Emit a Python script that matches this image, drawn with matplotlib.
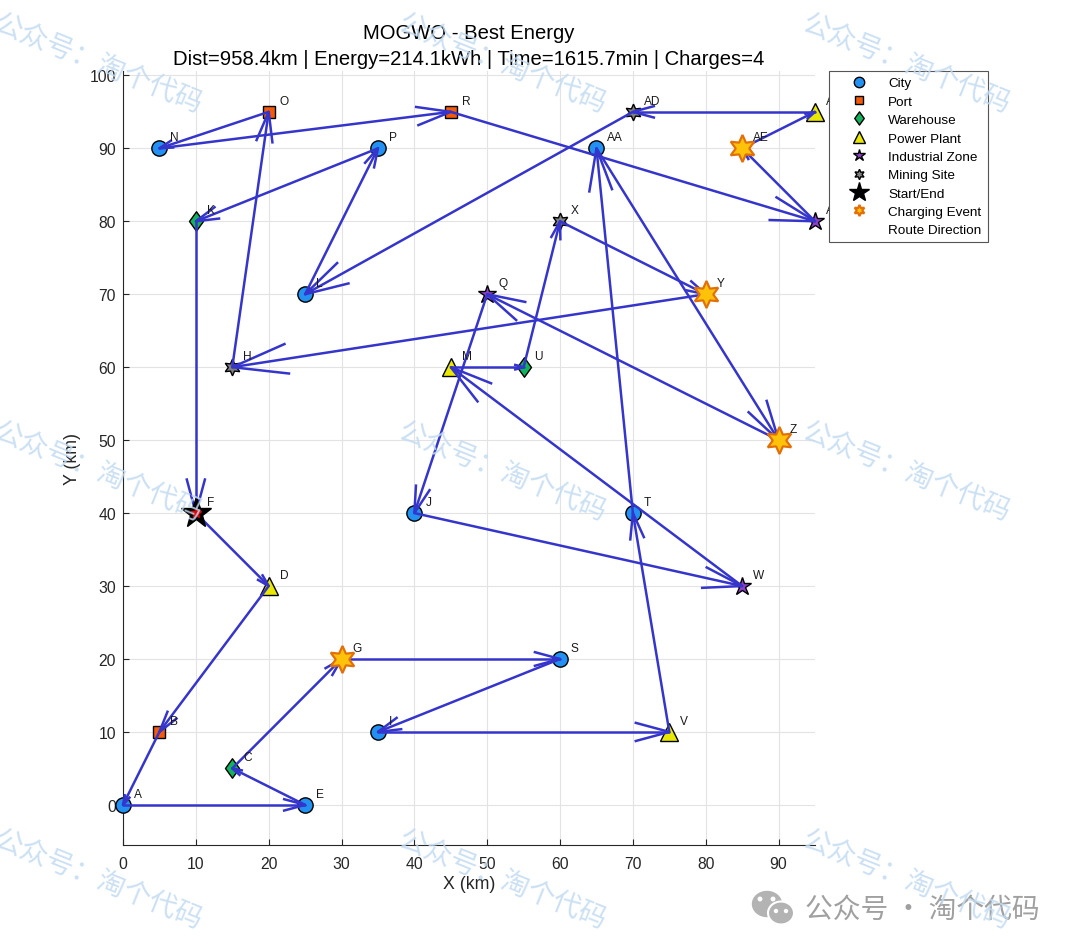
import numpy as np
import matplotlib
matplotlib.use('Agg')
import matplotlib.pyplot as plt
from matplotlib.lines import Line2D
from matplotlib.patches import Ellipse
from matplotlib.path import Path
from matplotlib.transforms import IdentityTransform

plt.rcParams['font.family'] = ['Liberation Sans', 'DejaVu Sans']

# nodes (km)
names = ['A', 'B', 'C', 'D', 'E', 'F', 'G', 'H', 'I', 'J', 'K', 'L', 'M', 'N', 'O', 'P',
         'Q', 'R', 'S', 'T', 'U', 'V', 'W', 'X', 'Y', 'Z', 'AA', 'AB', 'AC', 'AD', 'AE']
xs = [0, 5, 15, 20, 25, 10, 30, 15, 35, 40, 10, 25, 45, 5, 20, 35,
      50, 45, 60, 70, 55, 75, 85, 60, 80, 90, 65, 95, 95, 70, 85]
ys = [0, 10, 5, 30, 0, 40, 20, 60, 10, 40, 80, 70, 60, 90, 95, 90,
      70, 95, 20, 40, 60, 10, 30, 80, 70, 50, 90, 95, 80, 95, 90]
types = ['City', 'Port', 'Warehouse', 'Power Plant', 'City', 'Industrial Zone',
         'Charging Station', 'Mining Site', 'City', 'City', 'Warehouse', 'City',
         'Power Plant', 'City', 'Port', 'City', 'Industrial Zone', 'Port', 'City',
         'City', 'Warehouse', 'Power Plant', 'Industrial Zone', 'Mining Site',
         'Charging Station', 'Charging Station', 'City', 'Power Plant',
         'Industrial Zone', 'Mining Site', 'Charging Station']

route = ['F', 'D', 'B', 'A', 'E', 'C', 'G', 'S', 'I', 'V', 'T', 'AA', 'Z', 'Q', 'J', 'W',
         'M', 'U', 'X', 'Y', 'H', 'O', 'N', 'R', 'AC', 'AE', 'AB', 'AD', 'L', 'P', 'K', 'F']
charge_stops = ['G', 'Z', 'Y', 'AE']
start_node = 'F'

title_txt = 'MOGWO - Best Energy\nDist=958.4km | Energy=214.1kWh | Time=1615.7min | Charges=4'

pos = {n: (x, y) for n, x, y in zip(names, xs, ys)}

# 6-point star and tall diamond
hexagram = (6, 1, 0)
diamond = Path([(0, 1), (0.72, 0), (0, -1), (-0.72, 0), (0, 1)],
               [Path.MOVETO, Path.LINETO, Path.LINETO, Path.LINETO, Path.CLOSEPOLY])

styles = {
    'City': dict(marker='o', ms=11, mfc='#2391f2'),
    'Port': dict(marker='s', ms=9, mfc='#f45a08'),
    'Warehouse': dict(marker=diamond, ms=14, mfc='#12b35c'),
    'Power Plant': dict(marker='^', ms=12.5, mfc='#e8e800'),
    'Industrial Zone': dict(marker='*', ms=13.5, mfc='#8d3fc8'),
    'Mining Site': dict(marker=hexagram, ms=12, mfc='#7f7f7f'),
}
leg_sizes = {'City': 7.5, 'Port': 6, 'Warehouse': 9.5, 'Power Plant': 9,
             'Industrial Zone': 9, 'Mining Site': 7.5}

route_col = '#3535cc'

fig = plt.figure(figsize=(10.8, 9.53), dpi=100)
ax = fig.add_axes([123 / 1080, 1 - 846 / 953, 692 / 1080, 774 / 953])

# node markers
for t, st in styles.items():
    px = [x for x, tt in zip(xs, types) if tt == t]
    py = [y for y, tt in zip(ys, types) if tt == t]
    ax.plot(px, py, ls='none', mec='black', mew=1.0, zorder=3, clip_on=False, **st)

# route with arrow heads at each end point
for a, b in zip(route[:-1], route[1:]):
    x0, y0 = pos[a]
    x1, y1 = pos[b]
    dx, dy = x1 - x0, y1 - y0
    L = np.hypot(dx, dy)
    ux, uy = dx / L, dy / L
    h = 0.115 * L
    w = 0.27 * h
    bx1, by1 = x1 - h * ux - w * uy, y1 - h * uy + w * ux
    bx2, by2 = x1 - h * ux + w * uy, y1 - h * uy - w * ux
    ax.plot([x0, x1], [y0, y1], color=route_col, lw=1.8, zorder=4,
            solid_capstyle='round', clip_on=False)
    ax.plot([bx1, x1, bx2], [by1, y1, by2], color=route_col, lw=1.8, zorder=4,
            solid_joinstyle='miter', clip_on=False)

# charging events
cx = [pos[n][0] for n in charge_stops]
cy = [pos[n][1] for n in charge_stops]
ax.plot(cx, cy, ls='none', marker=hexagram, ms=19.5, mfc='#ffc20a', mec='#e2700a',
        mew=1.6, zorder=5, clip_on=False)

# start / end
sx, sy = pos[start_node]
ax.plot([sx], [sy], ls='none', marker='*', ms=23, mfc='black', mec='black', zorder=5)
ax.plot([sx], [sy], ls='none', marker='*', ms=7.5, mfc='#e00000', mec='#e00000', zorder=5)

for n, x, y in zip(names, xs, ys):
    ax.text(x + 1.5, y + 1.5, n, fontsize=8.6, ha='left', va='center', color='#1a1a1a',
            zorder=6, clip_on=False)

ax.set_xlim(0, 95)
ax.set_ylim(-5.5, 100.6)
ax.set_xticks(np.arange(0, 91, 10))
ax.set_yticks(np.arange(0, 101, 10))
ax.grid(True, color='#e3e3e3', lw=0.8)
ax.set_axisbelow(True)
for s in ['top', 'right']:
    ax.spines[s].set_visible(False)
for s in ['left', 'bottom']:
    ax.spines[s].set_color('#262626')
    ax.spines[s].set_linewidth(0.8)
ax.tick_params(direction='in', length=4, width=0.8, colors='#262626', labelsize=11.3)
ax.tick_params(axis='x', pad=8)
ax.tick_params(axis='y', pad=5)
ax.set_xlabel('X (km)', fontsize=12.8, color='#262626', labelpad=3)
ax.set_ylabel('Y (km)', fontsize=12.8, color='#262626', labelpad=6)
ax.set_title(title_txt, fontsize=14.6, linespacing=1.45, pad=5)

# legend
handles = []
for t, st in styles.items():
    handles.append(Line2D([], [], ls='none', marker=st['marker'], ms=leg_sizes[t],
                          mfc=st['mfc'], mec='black', mew=1.0, label=t))
handles.append(Line2D([], [], ls='none', marker='*', ms=15, mfc='black', mec='black',
                      label='Start/End'))
handles.append(Line2D([], [], ls='none', marker=hexagram, ms=8, mfc='#ffc20a',
                      mec='#e2700a', mew=1.6, label='Charging Event'))
handles.append(Line2D([], [], ls='none', label='Route Direction'))
leg = fig.legend(handles=handles, loc='upper left', bbox_to_anchor=(829 / 1080, 1 - 72 / 953),
                 bbox_transform=fig.transFigure, fontsize=9.7, frameon=True, fancybox=False,
                 edgecolor='#555555', borderpad=0.45, handlelength=3.6, handletextpad=0.35,
                 labelspacing=0.44, borderaxespad=0, framealpha=1)
leg.get_frame().set_linewidth(0.8)
leg.set_zorder(10)

# watermark
wm = '公众号：淘个代码'
for cxp in [98, 502, 906]:
    for cyp in [64, 472, 880]:
        fig.text(cxp / 1080, 1 - cyp / 953, wm, rotation=-22, ha='center', va='center',
                 fontsize=20, color='#c3dbf1', alpha=0.85,
                 family=['Noto Sans CJK SC', 'DejaVu Sans'], zorder=20)

fig.text(922 / 1080, 1 - 910 / 953, '公众号 · 淘个代码', ha='center', va='center',
         fontsize=20, color='#a0a0a0', family=['Noto Sans CJK SC', 'DejaVu Sans'])
ident = IdentityTransform()
fig.add_artist(Ellipse((767, 953 - 905), 29, 25, transform=ident, color='#b3b3b3'))
fig.add_artist(Ellipse((781, 953 - 914), 26, 23, transform=ident, color='#b3b3b3',
                       ec='white', lw=1.5))
for ex, ey, r in [(760, 900, 3.5), (773, 900, 3.5), (776, 912, 3), (786, 912, 3)]:
    fig.add_artist(Ellipse((ex, 953 - ey), r, r, transform=ident, color='white'))

fig.savefig('out.png', dpi=100)
